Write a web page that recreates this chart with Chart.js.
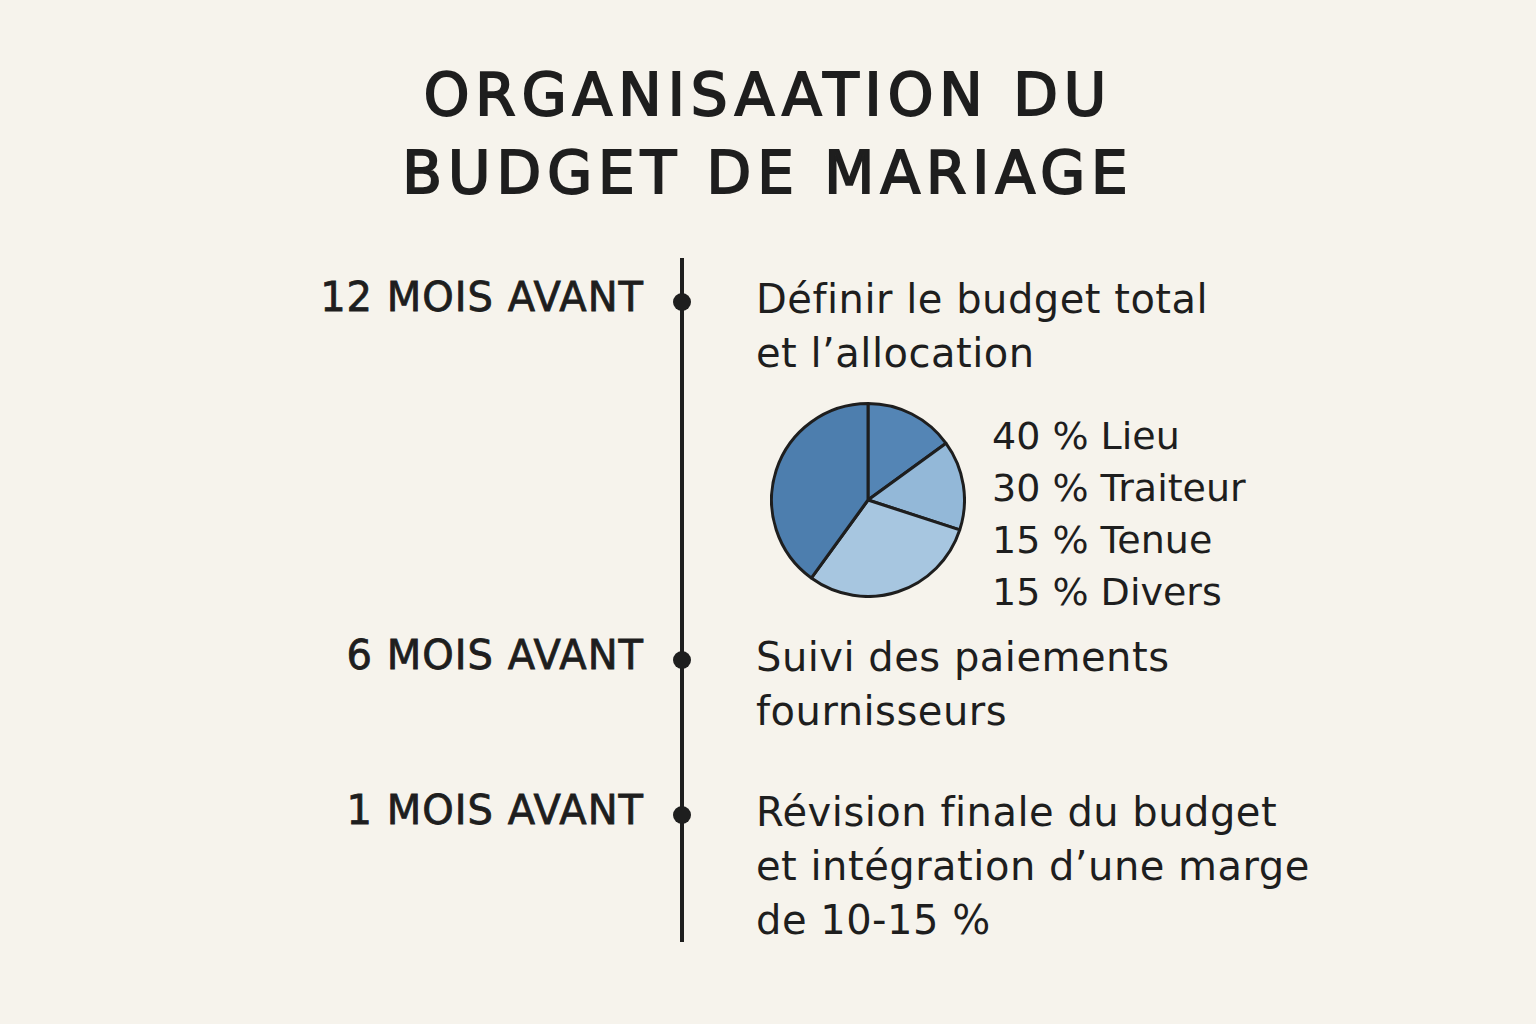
<!DOCTYPE html>
<html><head><meta charset="utf-8">
<script src="https://cdn.jsdelivr.net/npm/chart.js@4"></script>
<style>
body{margin:0;width:1536px;height:1024px;background:#f6f3ec;font-family:"DejaVu Sans",sans-serif;color:#1e1e1e;position:relative;overflow:hidden}
.t{position:absolute;white-space:nowrap}
#title{left:0;width:1536px;top:56px;text-align:center;font-size:58px;font-weight:400;letter-spacing:6px;line-height:78px;-webkit-text-stroke:2px #1e1e1e}
.step{font-size:40px;letter-spacing:1px;right:892px;-webkit-text-stroke:0.8px #1e1e1e}
.desc{font-size:40px;letter-spacing:0.5px;left:756px;line-height:54px}
.dot{position:absolute;left:673px;width:18px;height:18px;border-radius:50%;background:#1e1e1e}
#line{position:absolute;left:680px;top:258px;width:4px;height:684px;background:#1e1e1e}
#pie{position:absolute;left:770px;top:402px;width:196px;height:196px}
#leg{left:992px;top:410px;font-size:38px;line-height:52px}
</style></head><body>
<div id="title" class="t">ORGANISAATION DU<br>BUDGET DE MARIAGE</div>
<div id="line"></div>
<div id="steps"></div>
<div id="pie"><canvas id="c"></canvas></div>
<div id="leg" class="t"></div>
<script>
const steps = ['12 MOIS AVANT', '6 MOIS AVANT', '1 MOIS AVANT']
const stepY = [302, 660, 815]
const descs = [
    'Définir le budget total<br>et l’allocation',
    'Suivi des paiements<br>fournisseurs',
    'Révision finale du budget<br>et intégration d’une marge<br>de 10-15 %'
]
const legendOrder = ['Lieu', 'Traiteur', 'Tenue', 'Divers']
const legendValues = [40, 30, 15, 15]
// pie order drawn clockwise from top
const pieLabels = ['Tenue', 'Divers', 'Traiteur', 'Lieu']
const pieValues = [15, 15, 30, 40]
const pieColors = ['#5485b5', '#93b8d8', '#a7c6e0', '#4d7eae']

let html = ''
steps.forEach((s, i) => {
    html += '<div class="t step" style="top:' + (stepY[i] - 28) + 'px">' + s + '</div>'
    html += '<div class="dot" style="top:' + (stepY[i] - 9) + 'px"></div>'
    html += '<div class="t desc" style="top:' + (stepY[i] - 30) + 'px">' + descs[i] + '</div>'
})
document.getElementById('steps').innerHTML = html
document.getElementById('leg').innerHTML = legendOrder.map((l, i) => legendValues[i] + ' % ' + l).join('<br>')

new Chart(document.getElementById('c'), {
    type: 'pie',
    data: {
        labels: pieLabels,
        datasets: [{
            data: pieValues,
            backgroundColor: pieColors,
            borderColor: '#1e1e1e',
            borderWidth: 3
        }]
    },
    options: {
        responsive: true,
        maintainAspectRatio: false,
        animation: false,
        plugins: { legend: { display: false }, tooltip: { enabled: false } }
    }
})
</script>
</body></html>
